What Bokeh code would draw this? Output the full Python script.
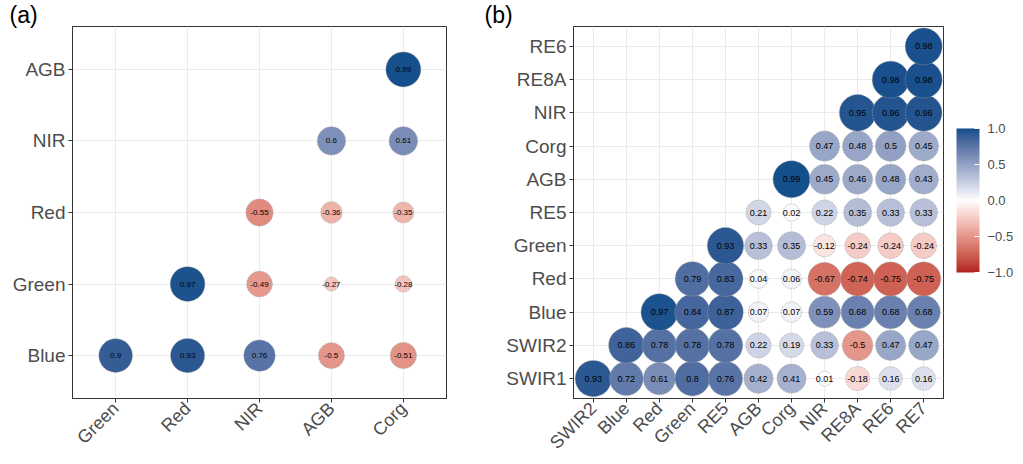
import math
from bokeh.plotting import figure
from bokeh.models import (ColumnDataSource, LinearColorMapper, ColorBar, FixedTicker,
                          Range1d, CustomJSTickFormatter)
from bokeh.layouts import row
from bokeh.transform import transform
from bokeh.core.properties import value
from bokeh.embed import file_html
from bokeh.resources import INLINE

# ---------------- data ----------------
a_x_labels = ["Green", "Red", "NIR", "AGB", "Corg"]
a_y_labels = ["Blue", "Green", "Red", "NIR", "AGB"]          # bottom -> top
a_blue  = [0.9, 0.93, 0.76, -0.5, -0.51]
a_green = [None, 0.97, -0.49, -0.27, -0.28]
a_red   = [None, None, -0.55, -0.36, -0.35]
a_nir   = [None, None, None, 0.6, 0.61]
a_agb   = [None, None, None, None, 0.99]

b_x_labels = ["SWIR2", "Blue", "Red", "Green", "RE5", "AGB", "Corg", "NIR", "RE8A", "RE6", "RE7"]
b_y_labels = ["SWIR1", "SWIR2", "Blue", "Red", "Green", "RE5", "AGB", "Corg", "NIR", "RE8A", "RE6"]
b_swir1 = [0.93, 0.72, 0.61, 0.8, 0.76, 0.42, 0.41, 0.01, -0.18, 0.16, 0.16]
b_swir2 = [None, 0.86, 0.78, 0.78, 0.78, 0.22, 0.19, 0.33, -0.5, 0.47, 0.47]
b_blue  = [None, None, 0.97, 0.84, 0.87, 0.07, 0.07, 0.59, 0.68, 0.68, 0.68]
b_red   = [None, None, None, 0.79, 0.83, 0.04, 0.06, -0.67, -0.74, -0.75, -0.75]
b_green = [None, None, None, None, 0.93, 0.33, 0.35, -0.12, -0.24, -0.24, -0.24]
b_re5   = [None, None, None, None, None, 0.21, 0.02, 0.22, 0.35, 0.33, 0.33]
b_agb   = [None, None, None, None, None, None, 0.99, 0.45, 0.46, 0.48, 0.43]
b_corg  = [None, None, None, None, None, None, None, 0.47, 0.48, 0.5, 0.45]
b_nir   = [None, None, None, None, None, None, None, None, 0.95, 0.96, 0.96]
b_re8a  = [None, None, None, None, None, None, None, None, None, 0.98, 0.98]
b_re6   = [None, None, None, None, None, None, None, None, None, None, 0.98]

colorbar_ticks = [-1.0, -0.5, 0.0, 0.5, 1.0]

# ---------------- colour scale (Lab interpolation like ggplot) ----------------
LOW, MID, HIGH = "#B22222", "#FFFFFF", "#104E8B"
XN, YN, ZN = 0.95047, 1.0, 1.08883

def hex2rgb(h):
    return [int(h[i:i + 2], 16) for i in (1, 3, 5)]

def to_lab(h):
    def lin(c):
        c /= 255.0
        return c / 12.92 if c <= 0.04045 else ((c + 0.055) / 1.055) ** 2.4
    r, g, b = [lin(c) for c in hex2rgb(h)]
    X = 0.4124 * r + 0.3576 * g + 0.1805 * b
    Y = 0.2126 * r + 0.7152 * g + 0.0722 * b
    Z = 0.0193 * r + 0.1192 * g + 0.9505 * b
    d = 6 / 29
    f = lambda t: t ** (1 / 3) if t > d ** 3 else t / (3 * d * d) + 4 / 29
    fx, fy, fz = f(X / XN), f(Y / YN), f(Z / ZN)
    return (116 * fy - 16, 500 * (fx - fy), 200 * (fy - fz))

def from_lab(L, a, b):
    d = 6 / 29
    fy = (L + 16) / 116
    fx = fy + a / 500
    fz = fy - b / 200
    finv = lambda t: t ** 3 if t > d else 3 * d * d * (t - 4 / 29)
    X, Y, Z = XN * finv(fx), YN * finv(fy), ZN * finv(fz)
    r = 3.2406 * X - 1.5372 * Y - 0.4986 * Z
    g = -0.9689 * X + 1.8758 * Y + 0.0415 * Z
    bb = 0.0557 * X - 0.2040 * Y + 1.0570 * Z
    def gam(c):
        c = 12.92 * c if c <= 0.0031308 else 1.055 * (max(c, 0) ** (1 / 2.4)) - 0.055
        return max(0, min(255, int(round(c * 255))))
    return "#%02x%02x%02x" % (gam(r), gam(g), gam(bb))

def build_palette(n=256):
    lo, mi, hi = to_lab(LOW), to_lab(MID), to_lab(HIGH)
    pal = []
    for i in range(n):
        t = -1 + 2 * i / (n - 1)
        if t < 0:
            s = t + 1
            c = [lo[k] + (mi[k] - lo[k]) * s for k in range(3)]
        else:
            c = [mi[k] + (hi[k] - mi[k]) * t for k in range(3)]
        pal.append(from_lab(*c))
    return pal

mapper = LinearColorMapper(palette=build_palette(), low=-1, high=1)

FONT = "Liberation Sans"
TICK_COLOR = "#4D4D4D"
BORDER = "#333333"
HEIGHT = 463
TAG_PAD = 8


def make_source(rows, max_d):
    xs, ys, rs, labels = [], [], [], []
    for yi, rw in enumerate(rows):
        for xi, v in enumerate(rw):
            if v is None:
                continue
            xs.append(xi + 1)
            ys.append(yi + 1)
            rs.append(v)
            labels.append(f"{v:g}")
    absv = [abs(v) for v in rs]
    lo, hi = min(absv), max(absv)
    sizes = [max_d * (4 + 6 * math.sqrt((a - lo) / (hi - lo))) / 10 for a in absv]
    return ColumnDataSource(dict(x=xs, y=ys, r=rs, label=labels, size=sizes))


def make_panel(x_labels, y_labels, rows, width, borders, max_d, txt_size, tag, tag_offset):
    nx, ny = len(x_labels), len(y_labels)
    p = figure(width=width, height=HEIGHT, output_backend="svg", toolbar_location=None,
               x_range=Range1d(0.4, nx + 0.6), y_range=Range1d(0.4, ny + 0.6),
               min_border_left=borders[0], min_border_right=borders[1],
               min_border_top=borders[2], min_border_bottom=borders[3],
               title=tag)
    p.title.align = "left"
    p.title.offset = tag_offset - TAG_PAD
    p.title.padding = TAG_PAD
    p.title.standoff = -18
    p.title.vertical_align = "bottom"
    p.title.text_font = FONT
    p.title.text_font_size = "23px"
    p.title.text_font_style = "normal"
    p.title.text_color = "black"
    p.background_fill_color = "white"
    p.border_fill_color = "white"
    p.outline_line_color = BORDER
    p.outline_line_width = 1
    for ax, labels, fs in ((p.xaxis[0], x_labels, "18px"), (p.yaxis[0], y_labels, "19px")):
        ax.ticker = FixedTicker(ticks=list(range(1, len(labels) + 1)))
        ax.major_label_overrides = {i + 1: s for i, s in enumerate(labels)}
        ax.major_label_text_font = FONT
        ax.major_label_text_font_size = fs
        ax.major_label_text_color = TICK_COLOR
        ax.major_tick_line_color = BORDER
        ax.major_tick_out = 4
        ax.major_tick_in = 0
        ax.minor_tick_line_color = None
        ax.axis_line_color = BORDER
        ax.major_label_standoff = 3
    p.xaxis[0].major_label_orientation = math.pi / 4
    p.xgrid.grid_line_color = "#EBEBEB"
    p.ygrid.grid_line_color = "#EBEBEB"

    src = make_source(rows, max_d)
    p.scatter("x", "y", source=src, size="size", marker="circle",
              fill_color=transform("r", mapper), line_color="#a0a0a0",
              line_width=0.6, line_dash="2 1")
    p.text("x", "y", text="label", source=src, text_align="center",
           text_baseline="middle", text_font=value(FONT),
           text_font_size=txt_size, text_color="black")
    return p


rows_a = [a_blue, a_green, a_red, a_nir, a_agb]
rows_b = [b_swir1, b_swir2, b_blue, b_red, b_green, b_re5, b_agb, b_corg, b_nir, b_re8a, b_re6]

pa = make_panel(a_x_labels, a_y_labels, rows_a, 480, (72, 34, 26, 65), 35, "8px",
                "(a)", -63)
pb = make_panel(b_x_labels, b_y_labels, rows_b, 535, (93, 72, 26, 65), 37, "9px",
                "(b)", -89)

cb = ColorBar(color_mapper=mapper, ticker=FixedTicker(ticks=colorbar_ticks),
              formatter=CustomJSTickFormatter(code="return (tick < 0 ? '\u2212' : '') + Math.abs(tick).toFixed(1);"),
              width=23, height=144, location=(383, 126), margin=0, padding=0,
              major_label_text_font=FONT, major_label_text_font_size="13px",
              major_label_text_color=TICK_COLOR, major_tick_line_color="white",
              major_tick_in=5, major_tick_out=0, minor_tick_line_color=None,
              bar_line_color=None, border_line_color=None, background_fill_alpha=0,
              label_standoff=8)
pb.add_layout(cb, "center")

layout = row(pa, pb)
open("out.html", "w").write(file_html(layout, INLINE))
